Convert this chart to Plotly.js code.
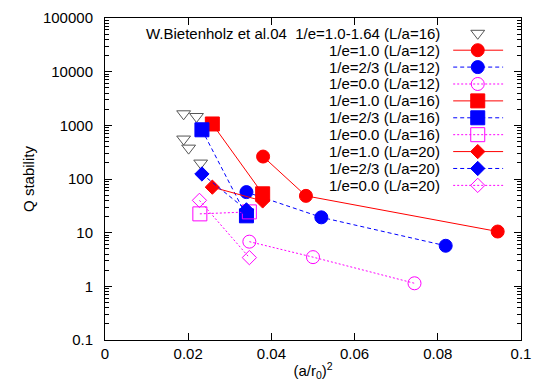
<!DOCTYPE html>
<html>
<head>
<meta charset="utf-8">
<script src="https://cdn.plot.ly/plotly-3.0.1.min.js"></script>
<style>
  body { margin: 0; }
  #graph { width: 545px; height: 382px; }
</style>
</head>
<body>
<div id="graph"></div>
<script>
// x = (a/r0)^2, y = Q stability

// W.Bietenholz et al.04, 1/e=1.0-1.64 (L/a=16)
var bietX = [0.0189, 0.0220, 0.0189, 0.0201, 0.0230];
var bietY = [1640, 1460, 555, 376, 198];

// L/a=12
var r12X = [0.0380, 0.0483, 0.0944];
var r12Y = [262, 48.5, 10.5];
var b12X = [0.0340, 0.0520, 0.0819];
var b12Y = [57, 19.3, 5.7];
var m12X = [0.0347, 0.0500, 0.0744];
var m12Y = [6.8, 3.5, 1.14];

// L/a=16
var r16X = [0.0258, 0.0379];
var r16Y = [1060, 53];
var b16X = [0.0233, 0.0340];
var b16Y = [826, 20.6];
var m16X = [0.0228, 0.0347];
var m16Y = [22.4, 24.4];

// L/a=20
var r20X = [0.0258, 0.0379];
var r20Y = [70.5, 39];
var b20X = [0.0233, 0.0340];
var b20Y = [124, 26.6];
var m20X = [0.0227, 0.0347];
var m20Y = [40, 3.43];

var xTicks = [0, 0.02, 0.04, 0.06, 0.08, 0.1];

var labels = [
    'W.Bietenholz et al.04\u00a0\u00a01/e=1.0-1.64 (L/a=16)',
    '1/e=1.0 (L/a=12)', '1/e=2/3 (L/a=12)', '1/e=0.0 (L/a=12)',
    '1/e=1.0 (L/a=16)', '1/e=2/3 (L/a=16)', '1/e=0.0 (L/a=16)',
    '1/e=1.0 (L/a=20)', '1/e=2/3 (L/a=20)', '1/e=0.0 (L/a=20)'
];

var RED = '#ff0000', BLUE = '#0000ff', MAG = '#ff00ff', GREY = '#555555';
var SOLID = 'solid', DASH = '4px,3px', DOT = '2px,2px';

var series = [
    {x: bietX, y: bietY, color: GREY, symbol: 'triangle-down-open', size: 12, dash: null},
    {x: r12X, y: r12Y, color: RED, symbol: 'circle', size: 13, dash: SOLID},
    {x: b12X, y: b12Y, color: BLUE, symbol: 'circle', size: 13, dash: DASH},
    {x: m12X, y: m12Y, color: MAG, symbol: 'circle-open', size: 13, dash: DOT},
    {x: r16X, y: r16Y, color: RED, symbol: 'square', size: 14, dash: SOLID},
    {x: b16X, y: b16Y, color: BLUE, symbol: 'square', size: 14, dash: DASH},
    {x: m16X, y: m16Y, color: MAG, symbol: 'square-open', size: 14, dash: DOT},
    {x: r20X, y: r20Y, color: RED, symbol: 'diamond', size: 11, dash: SOLID},
    {x: b20X, y: b20Y, color: BLUE, symbol: 'diamond', size: 11, dash: DASH},
    {x: m20X, y: m20Y, color: MAG, symbol: 'diamond-open', size: 11, dash: DOT}
];

// minor ticks 2..9 in every decade of the y axis
var minorY = [];
for (var d = -1; d < 5; d++) {
    for (var k = 2; k <= 9; k++) minorY.push(k * Math.pow(10, d));
}

var traces = [];
var annotations = [];

// legend geometry on a hidden second subplot (x2: 0..1 across the plot, y2: legend rows)
var legText = 0.811, legL0 = 0.837, legL1 = 0.957, legMark = 0.896;

for (var i = 0; i < series.length; i++) {
    var s = series[i];
    traces.push({
        x: s.x,
        y: s.y,
        mode: s.dash ? 'lines+markers' : 'markers',
        line: {color: s.color, width: 1, dash: s.dash || 'solid'},
        marker: {color: s.color, size: s.size, symbol: s.symbol, line: {color: s.color, width: 1}},
        type: 'scatter',
        showlegend: false,
        cliponaxis: false
    });
}

for (i = 0; i < series.length; i++) {
    var s = series[i];
    if (s.dash) {
        traces.push({
            x: [legL0, legL1], y: [i, i],
            xaxis: 'x2', yaxis: 'y2',
            mode: 'lines',
            line: {color: s.color, width: 1, dash: s.dash},
            showlegend: false, hoverinfo: 'skip'
        });
    }
    traces.push({
        x: [legMark], y: [i],
        xaxis: 'x2', yaxis: 'y2',
        mode: 'markers',
        marker: {color: s.color, size: s.size, symbol: s.symbol, line: {color: s.color, width: 1}},
        showlegend: false, hoverinfo: 'skip'
    });
    annotations.push({
        xref: 'x2', yref: 'y2', x: legText, y: i,
        xanchor: 'right', yanchor: 'middle',
        text: labels[i], showarrow: false,
        font: {size: 15, color: 'black'}
    });
}

var frame = {
    width: 545,
    height: 382,
    margin: {l: 105, r: 24, t: 18, b: 42},
    paper_bgcolor: 'white',
    plot_bgcolor: 'rgba(0,0,0,0)',
    font: {family: 'Liberation Sans, Arial, sans-serif', size: 15, color: 'black'},
    xaxis: {
        range: [0, 0.1],
        tickmode: 'array',
        tickvals: xTicks,
        ticktext: xTicks.map(String),
        automargin: false,
        ticks: 'inside',
        ticklen: 7,
        tickwidth: 1,
        tickcolor: 'black',
        minor: {ticks: 'inside', ticklen: 7, tickwidth: 1, tickcolor: 'black', tickmode: 'array', tickvals: xTicks, showgrid: false},
        showline: true,
        linecolor: 'black',
        linewidth: 1,
        mirror: 'ticks',
        showgrid: false,
        zeroline: false,
        title: {text: '(a/r<sub>0</sub>)<sup>2</sup>', font: {size: 15}, standoff: 4}
    },
    yaxis: {
        type: 'log',
        range: [-1, 5],
        dtick: 1,
        tickformat: '~g',
        automargin: false,
        ticks: 'inside',
        ticklen: 7,
        tickwidth: 1,
        tickcolor: 'black',
        ticklabelstandoff: 8,
        minor: {ticks: 'inside', ticklen: 4, tickwidth: 1, tickcolor: 'black', tickmode: 'array', tickvals: minorY, showgrid: false},
        showline: true,
        linecolor: 'black',
        linewidth: 1,
        mirror: 'ticks',
        showgrid: false,
        zeroline: false,
        title: {text: 'Q stability', font: {size: 15}, standoff: 4}
    },
    xaxis2: {domain: [0, 1], anchor: 'y2', range: [0, 1], visible: false, fixedrange: true},
    yaxis2: {domain: [0, 1], anchor: 'x2', range: [18.15, -0.905], visible: false, fixedrange: true},
    annotations: annotations,
    showlegend: false
};

Plotly.newPlot('graph', traces, frame, {displayModeBar: false, staticPlot: true});
</script>
</body>
</html>
